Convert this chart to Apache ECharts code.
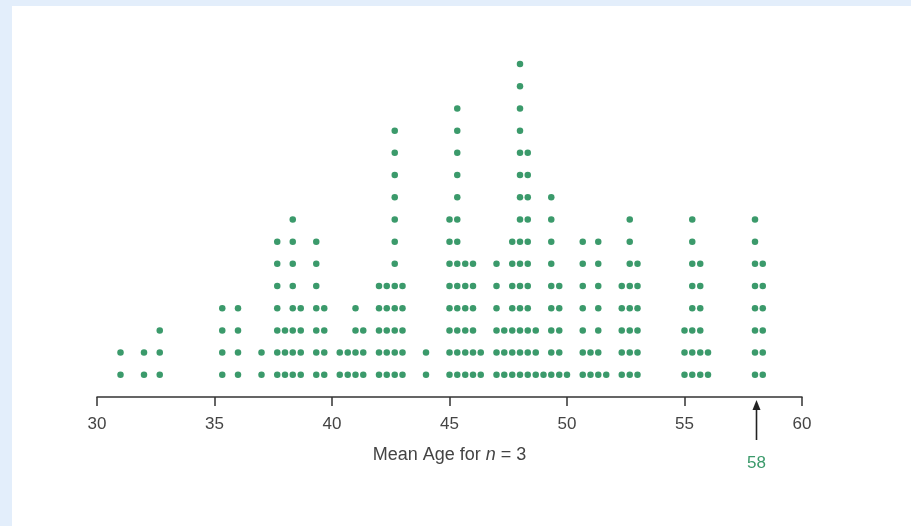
<!DOCTYPE html>
<html>
<head>
<meta charset="utf-8">
<script src="https://cdn.jsdelivr.net/npm/echarts@6/dist/echarts.min.js"></script>
<style>
  html, body { margin: 0; padding: 0; width: 911px; height: 526px; overflow: hidden; background: #e3eefb; }
  #panel { position: absolute; left: 12px; top: 6px; right: 0; bottom: 0; background: #ffffff; }
  #chart { position: absolute; left: 0; top: 0; width: 911px; height: 526px; }
</style>
</head>
<body>
<div id="panel"></div>
<div id="chart"></div>
<script>
// Mean age values (sample mean of n = 3 ages) and number of dots stacked at each
const meanValues = [
  31, 32, 32.67, 35.33, 36, 37, 37.67, 38, 38.33, 38.67, 39.33, 39.67,
  40.33, 40.67, 41, 41.33, 42, 42.33, 42.67, 43, 44, 45, 45.33, 45.67,
  46, 46.33, 47, 47.33, 47.67, 48, 48.33, 48.67, 49, 49.33, 49.67, 50,
  50.67, 51, 51.33, 51.67, 52.33, 52.67, 53, 55, 55.33, 55.67, 56, 58, 58.33
];
const dotCounts = [
  2, 2, 3, 4, 4, 2, 7, 3, 8, 4, 7, 4,
  2, 2, 4, 3, 5, 5, 12, 5, 2, 8, 13, 6,
  6, 2, 6, 3, 7, 15, 11, 3, 1, 9, 5, 1,
  7, 2, 7, 1, 5, 8, 6, 3, 8, 6, 2, 8, 6
];
const xTicks = [30, 35, 40, 45, 50, 55, 60];
const markedValue = 58;
const markedLabel = '58';

const dots = [];
meanValues.forEach((v, i) => {
  for (let k = 1; k <= dotCounts[i]; k++) dots.push([v, k]);
});

const green = '#3b9a6b';
const font = 'Liberation Sans, Arial, sans-serif';
const chart = echarts.init(document.getElementById('chart'), null, { renderer: 'canvas' });
chart.setOption({
  backgroundColor: 'transparent',
  animation: false,
  grid: { left: 97, right: 109, top: 53, bottom: 129 },
  xAxis: {
    type: 'value',
    min: xTicks[0], max: xTicks[xTicks.length - 1], interval: 5,
    axisLine: { show: true, lineStyle: { color: '#333333', width: 1.5 } },
    axisTick: { show: true, inside: false, length: 9, lineStyle: { color: '#333333', width: 1.5 } },
    axisLabel: { color: '#444444', fontSize: 17, fontFamily: font, margin: 19 },
    splitLine: { show: false },
    name: '{a|Mean Age for }{i|n}{a| = 3}',
    nameLocation: 'middle',
    nameGap: 49,
    nameTextStyle: {
      rich: {
        a: { fontSize: 18, color: '#444444', fontFamily: font },
        i: { fontSize: 18, color: '#444444', fontStyle: 'italic', fontFamily: font }
      }
    }
  },
  yAxis: {
    type: 'value', min: 0, max: 15.5,
    show: false
  },
  series: [{
    type: 'scatter',
    data: dots,
    symbol: 'circle',
    symbolSize: 6.5,
    itemStyle: { color: green, opacity: 1 },
    clip: false
  }]
});

// Arrow and label under the axis at the marked value, positioned via the x scale
const px = chart.convertToPixel({ xAxisIndex: 0 }, markedValue) + 1.5;
const axisY = chart.convertToPixel({ yAxisIndex: 0 }, 0);
chart.setOption({
  graphic: [
    { type: 'line', shape: { x1: px, y1: axisY + 43, x2: px, y2: axisY + 10 },
      style: { stroke: '#222222', lineWidth: 1.6 } },
    { type: 'polygon', shape: { points: [[px, axisY + 3], [px - 4, axisY + 13], [px + 4, axisY + 13]] },
      style: { fill: '#222222' } },
    { type: 'text', x: px, y: axisY + 66,
      style: { text: markedLabel, fill: green, fontSize: 17, fontFamily: font,
               align: 'center', verticalAlign: 'middle' } }
  ]
});
</script>
</body>
</html>
